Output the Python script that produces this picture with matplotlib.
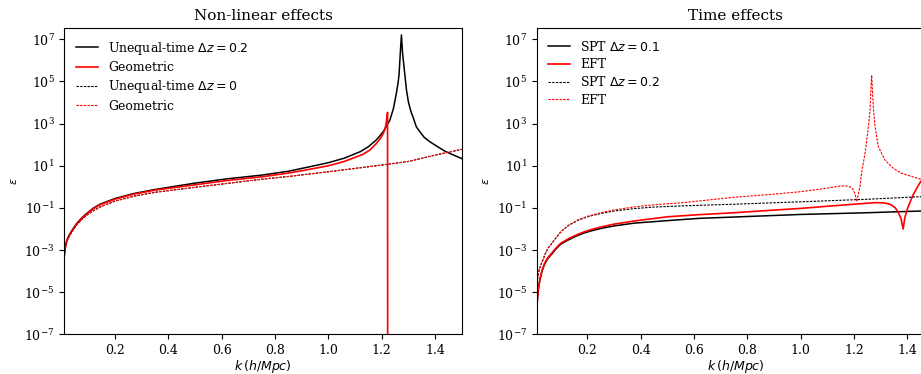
import matplotlib
matplotlib.use('Agg')
import matplotlib.pyplot as plt

plt.rcParams['font.family'] = 'DejaVu Serif'
plt.rcParams['mathtext.fontset'] = 'dejavusans'

# Non-linear effects panel
k_nl_ut = [0.01, 0.015, 0.02, 0.03, 0.04, 0.056, 0.075, 0.094, 0.12, 0.144, 0.2, 0.27, 0.35, 0.5,
           0.62, 0.75, 0.85, 0.93, 1.0, 1.06, 1.12, 1.15, 1.18, 1.195, 1.21, 1.231, 1.244, 1.256,
           1.261, 1.265, 1.27, 1.274, 1.278, 1.282, 1.287, 1.293, 1.3, 1.309, 1.319, 1.33, 1.344,
           1.36, 1.38, 1.41, 1.44, 1.47, 1.5]
eps_nl_ut = [5.5e-4, 1.7e-3, 3e-3, 5.5e-3, 9e-3, 1.8e-2, 3.3e-2, 5.5e-2, 0.1, 0.15, 0.28, 0.48, 0.75, 1.5,
             2.4, 3.6, 5.5, 9, 14, 23, 47, 80, 170, 280, 500, 1500, 5200, 3.2e4,
             8e4, 2e5, 2.5e6, 1.6e7, 2.5e6, 8e5, 2e5, 4e4, 1.1e4, 4e3, 1.8e3, 700, 400,
             220, 140, 80, 47, 32, 22]

k_nl_geo = [0.01, 0.015, 0.02, 0.03, 0.04, 0.056, 0.075, 0.094, 0.12, 0.144, 0.2, 0.27, 0.35, 0.5,
            0.62, 0.75, 0.85, 0.93, 1.0, 1.056, 1.1, 1.13, 1.156, 1.18, 1.195, 1.205, 1.211, 1.216,
            1.222, 1.2225]
eps_nl_geo = [5.3e-4, 1.6e-3, 2.9e-3, 5.2e-3, 8.6e-3, 1.7e-2, 3.1e-2, 5.2e-2, 9.5e-2, 0.14, 0.26, 0.45, 0.7, 1.25,
              2.0, 3.0, 4.5, 6.8, 10, 15.5, 25, 35, 56, 115, 200, 320, 500, 900,
              3400, 1e-12]

k_nl_eq = [0.01, 0.015, 0.02, 0.03, 0.04, 0.056, 0.075, 0.094, 0.12, 0.144, 0.2, 0.27, 0.35, 0.5,
           0.62, 0.75, 0.85, 1.0, 1.1, 1.2, 1.3, 1.4, 1.5]
eps_nl_eq_ut = [5.5e-4, 1.6e-3, 2.8e-3, 5e-3, 8e-3, 1.55e-2, 2.8e-2, 4.5e-2, 7.5e-2, 0.11, 0.21, 0.36, 0.55, 0.95,
                1.45, 2.3, 3.1, 5.2, 7.5, 10.8, 16, 32, 60]
eps_nl_eq_geo = [5.5e-4, 1.6e-3, 2.8e-3, 5e-3, 8e-3, 1.55e-2, 2.8e-2, 4.5e-2, 7.5e-2, 0.11, 0.21, 0.36, 0.55, 0.95,
                 1.45, 2.3, 3.1, 5.2, 7.5, 10.8, 16, 32, 60]

# Time effects panel
k_t_spt1 = [0.01, 0.013, 0.017, 0.022, 0.03, 0.04, 0.052, 0.066, 0.08, 0.1, 0.128, 0.16, 0.19, 0.22,
            0.252, 0.3, 0.376, 0.5, 0.62, 0.75, 1.0, 1.247, 1.446, 1.5]
eps_t_spt1 = [1.2e-6, 5e-6, 1.6e-5, 3.8e-5, 1e-4, 2.2e-4, 4e-4, 6.3e-4, 1.05e-3, 1.9e-3, 3e-3, 4.7e-3, 6.6e-3, 8.5e-3,
              1.07e-2, 1.4e-2, 1.9e-2, 2.5e-2, 3.2e-2, 3.7e-2, 4.9e-2, 5.9e-2, 7.1e-2, 7.4e-2]

k_t_eft1 = [0.01, 0.013, 0.017, 0.022, 0.03, 0.04, 0.052, 0.066, 0.08, 0.1, 0.128, 0.16, 0.19, 0.22,
            0.252, 0.3, 0.376, 0.5, 0.62, 0.75, 0.9, 1.0, 1.1, 1.2, 1.247, 1.28, 1.31, 1.33, 1.34,
            1.355, 1.366, 1.376, 1.384, 1.39, 1.396, 1.403, 1.421, 1.446, 1.47]
eps_t_eft1 = [1.2e-6, 5.3e-6, 1.7e-5, 4e-5, 1.06e-4, 2.4e-4, 4.4e-4, 7e-4, 1.15e-3, 2.1e-3, 3.4e-3, 5.3e-3, 7.5e-3, 9.8e-3,
              1.25e-2, 1.7e-2, 2.4e-2, 3.8e-2, 4.8e-2, 5.9e-2, 7.9e-2, 9.5e-2, 0.12, 0.15, 0.166, 0.178, 0.174, 0.155, 0.138,
              0.1, 0.06, 0.032, 0.01, 0.032, 0.063, 0.115, 0.41, 1.5, 4]

k_t_spt2 = [0.01, 0.014, 0.02, 0.027, 0.034, 0.043, 0.053, 0.066, 0.08, 0.103, 0.13, 0.165, 0.2, 0.252,
            0.3, 0.376, 0.45, 0.563, 0.75, 1.0, 1.247, 1.446, 1.5]
eps_t_spt2 = [1.25e-5, 5e-5, 1.25e-4, 2.2e-4, 3.5e-4, 7e-4, 1.25e-3, 2e-3, 3.5e-3, 7.9e-3, 1.5e-2, 2.6e-2, 3.8e-2, 5.5e-2,
              7.1e-2, 9.3e-2, 0.11, 0.126, 0.15, 0.195, 0.257, 0.34, 0.355]

k_t_eft2 = [0.01, 0.014, 0.02, 0.027, 0.034, 0.043, 0.053, 0.066, 0.08, 0.103, 0.13, 0.165, 0.2, 0.252,
            0.3, 0.376, 0.45, 0.563, 0.75, 0.9, 1.0, 1.08, 1.148, 1.17, 1.185, 1.195, 1.203, 1.21,
            1.222, 1.228, 1.241, 1.251, 1.26, 1.263, 1.266, 1.27, 1.273, 1.279, 1.291, 1.316, 1.347,
            1.378, 1.44, 1.5]
eps_t_eft2 = [1.25e-5, 5e-5, 1.25e-4, 2.2e-4, 3.5e-4, 7e-4, 1.25e-3, 2e-3, 3.5e-3, 7.9e-3, 1.5e-2, 2.7e-2, 4e-2, 6e-2,
              8e-2, 0.112, 0.141, 0.18, 0.32, 0.45, 0.59, 0.8, 1.1, 1.1, 1.0, 0.8, 0.49, 0.2,
              1.0, 4.4, 39, 350, 4400, 4e4, 2e5, 2e4, 4400, 700, 80, 18.6, 7.6,
              4.4, 2.5, 1.8]

yticks = [1e-7, 1e-5, 1e-3, 1e-1, 1e1, 1e3, 1e5, 1e7]
xticks = [0.2, 0.4, 0.6, 0.8, 1.0, 1.2, 1.4]

fig = plt.figure(figsize=(9.21, 3.74), dpi=100)
ax1 = fig.add_axes([0.0698, 0.106, 0.4315, 0.818])
ax2 = fig.add_axes([0.5827, 0.106, 0.4315, 0.818])

dash = (0, (2.2, 1.1))

ax1.plot(k_nl_ut, eps_nl_ut, color='black', lw=1.1, label=r'Unequal-time $\Delta z = 0.2$')
ax1.plot(k_nl_geo, eps_nl_geo, color='red', lw=1.2, label='Geometric')
ax1.plot(k_nl_eq, eps_nl_eq_ut, color='black', lw=0.8, ls=dash, label=r'Unequal-time $\Delta z = 0$')
ax1.plot(k_nl_eq, eps_nl_eq_geo, color='red', lw=0.8, ls=dash, label='Geometric')
ax1.set_title('Non-linear effects', fontsize=11)

ax2.plot(k_t_spt1, eps_t_spt1, color='black', lw=1.1, label=r'SPT $\Delta z = 0.1$')
ax2.plot(k_t_eft1, eps_t_eft1, color='red', lw=1.2, label='EFT')
ax2.plot(k_t_spt2, eps_t_spt2, color='black', lw=0.8, ls=dash, label=r'SPT $\Delta z = 0.2$')
ax2.plot(k_t_eft2, eps_t_eft2, color='red', lw=0.8, ls=dash, label='EFT')
ax2.set_title('Time effects', fontsize=11)

for ax in (ax1, ax2):
    ax.set_yscale('log')
    ax.set_xlim(0.01, 1.5)
    ax.set_ylim(1e-7, 3.3e7)
    ax.set_yticks(yticks)
    ax.minorticks_off()
    ax.set_xticks(xticks)
    ax.tick_params(labelsize=9)
    ax.set_xlabel(r'$k\,(h/Mpc)$', fontsize=9, labelpad=1)
    ax.set_ylabel(r'$\epsilon$', fontsize=8)
    ax.legend(loc='upper left', frameon=False, fontsize=9, handlelength=1.8, labelspacing=0.35)

fig.savefig('out.png', dpi=100)
